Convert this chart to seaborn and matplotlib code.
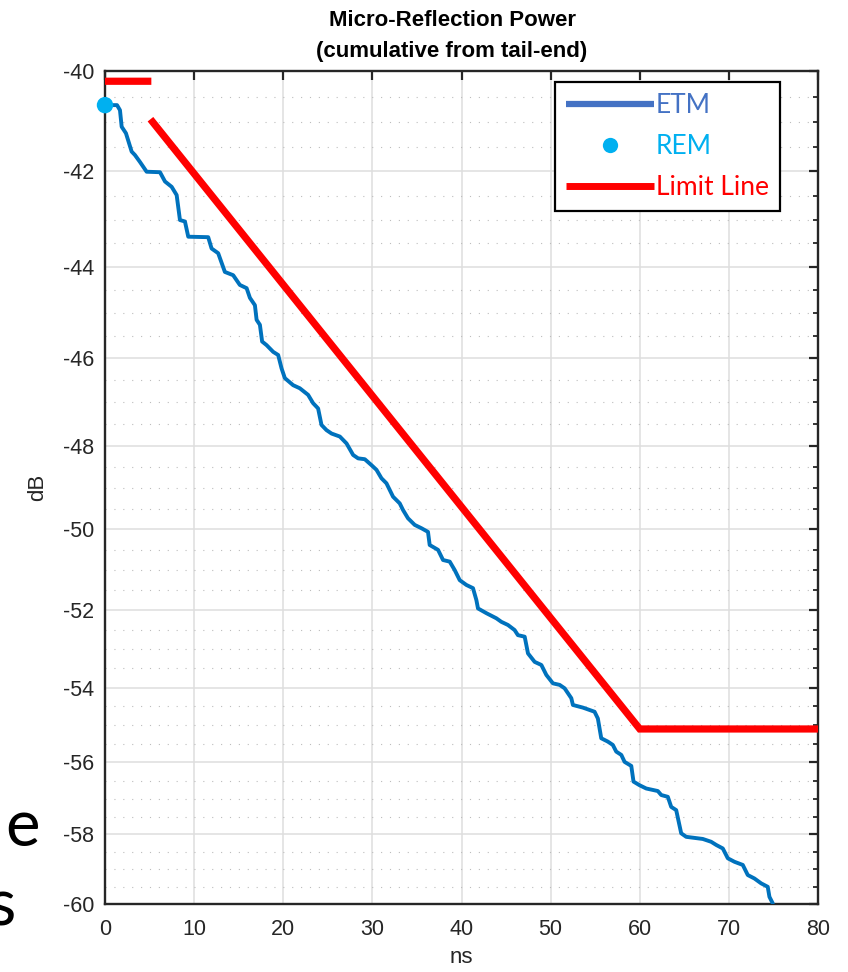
import numpy as np
import matplotlib
matplotlib.use("Agg")
import matplotlib.pyplot as plt
import seaborn as sns
from matplotlib.lines import Line2D
from matplotlib.ticker import MultipleLocator, FormatStrFormatter

# ETM trace (ns, dB)
etm_ns = [0.00, 1.35, 1.68, 1.87, 2.35, 2.99, 3.36, 3.92, 4.67, 6.17,
          6.73, 7.48, 8.04, 8.41, 8.97, 9.34, 11.58, 11.96, 12.70, 13.45,
          14.38, 15.13, 15.89, 16.26, 16.82, 17.01, 17.38, 17.63, 18.13, 18.87,
          19.43, 19.81, 20.18, 21.11, 21.86, 22.79, 23.35, 23.91, 24.29, 24.85,
          25.42, 26.35, 27.10, 27.84, 28.40, 29.15, 29.90, 30.46, 31.02, 31.58,
          32.32, 33.07, 33.44, 34.00, 34.75, 35.50, 36.24, 36.43, 37.37, 37.93,
          38.68, 39.24, 39.80, 40.55, 41.29, 41.67, 41.85, 42.79, 43.91, 44.47,
          45.21, 45.96, 46.33, 47.09, 47.46, 48.21, 48.96, 49.52, 50.26, 51.01,
          51.57, 52.32, 52.50, 53.62, 54.93, 55.30, 55.68, 56.42, 56.98, 57.36,
          57.93, 58.30, 59.05, 59.30, 59.98, 60.73, 62.03, 62.41, 63.15, 63.53,
          64.09, 64.65, 65.21, 67.07, 68.01, 68.58, 69.32, 69.88, 70.63, 71.56,
          72.12, 72.87, 73.62, 74.36, 74.55, 74.92]
etm_db = [-40.67, -40.67, -40.77, -41.10, -41.23, -41.60, -41.67, -41.81, -42.01, -42.02,
          -42.21, -42.32, -42.49, -43.01, -43.04, -43.36, -43.37, -43.61, -43.71, -44.11,
          -44.18, -44.39, -44.46, -44.67, -44.83, -45.15, -45.26, -45.63, -45.71, -45.86,
          -45.93, -46.23, -46.45, -46.61, -46.68, -46.83, -47.02, -47.14, -47.52, -47.64,
          -47.72, -47.79, -47.95, -48.22, -48.30, -48.32, -48.46, -48.57, -48.77, -48.89,
          -49.21, -49.37, -49.53, -49.73, -49.89, -49.97, -50.06, -50.38, -50.50, -50.75,
          -50.79, -51.00, -51.25, -51.37, -51.45, -51.75, -51.96, -52.08, -52.21, -52.30,
          -52.38, -52.51, -52.64, -52.68, -53.11, -53.33, -53.41, -53.67, -53.89, -53.93,
          -54.02, -54.28, -54.46, -54.53, -54.64, -54.82, -55.35, -55.44, -55.53, -55.71,
          -55.80, -55.99, -56.10, -56.53, -56.63, -56.72, -56.79, -56.90, -56.95, -57.23,
          -57.32, -57.97, -58.07, -58.13, -58.21, -58.30, -58.40, -58.68, -58.78, -58.87,
          -59.16, -59.26, -59.40, -59.50, -59.79, -59.98]

rem_ns = [0.0]
rem_db = [-40.67]

# limit line: short flat piece, then the slope and the floor
limit_ns = [0.0, 5.2, np.nan, 5.1, 60.0, 80.0]
limit_db = [-40.2, -40.2, np.nan, -40.95, -55.1, -55.1]

legend_labels = ["ETM", "REM", "Limit Line"]

ETM_BLUE = "#0072BD"
LEG_BLUE = "#4472C4"
CYAN = "#00B0F0"
RED = "#FF0000"
DARK = "#262626"

sns.set_theme(style="white")
plt.rcParams["font.family"] = ["Liberation Sans", "DejaVu Sans"]
plt.rcParams["axes.unicode_minus"] = False

fig = plt.figure(figsize=(8.48, 9.72), dpi=100)
ax = fig.add_axes([105 / 848, 1 - 904 / 972, 713 / 848, 833 / 972])


def fwd(v):
    v = np.asarray(v, dtype=float)
    with np.errstate(all="ignore"):
        return -np.log(-v)


def inv(t):
    return -np.exp(-np.asarray(t, dtype=float))


ax.set_yscale("function", functions=(fwd, inv))
ax.set_xlim(0, 80)
ax.set_ylim(-60, -40)

sns.lineplot(x=etm_ns, y=etm_db, ax=ax, color=ETM_BLUE, lw=2.8,
             estimator=None, sort=False, zorder=3)
ax.plot(limit_ns, limit_db, color=RED, lw=5.2, solid_capstyle="butt",
        solid_joinstyle="miter", zorder=4)
sns.scatterplot(x=rem_ns, y=rem_db, ax=ax, color=CYAN, s=140,
                edgecolor="none", clip_on=False, zorder=5)

ax.xaxis.set_major_locator(MultipleLocator(10))
ax.yaxis.set_major_locator(MultipleLocator(2))
ax.yaxis.set_minor_locator(MultipleLocator(0.5))
ax.yaxis.set_major_formatter(FormatStrFormatter("%d"))
ax.xaxis.set_major_formatter(FormatStrFormatter("%d"))

ax.grid(True, which="major", axis="both", color="#dedede", lw=1.1)
ax.grid(True, which="minor", axis="y", color="#bdbdbd", lw=0.8, ls=(0, (1, 7)))
ax.set_axisbelow(True)

for s in ax.spines.values():
    s.set_visible(True)
    s.set_color(DARK)
    s.set_linewidth(1.7)
ax.tick_params(which="both", direction="in", top=True, right=True,
               colors=DARK, labelsize=15.5)
ax.tick_params(which="major", length=6.5, width=1.6, pad=8)
ax.tick_params(which="minor", length=3.6, width=1.3)
ax.tick_params(axis="x", which="major", pad=11)

ax.set_xlabel("ns", fontsize=16, color=DARK, labelpad=5)
ax.set_ylabel("dB", fontsize=16, color=DARK, labelpad=10)

fig.text(452 / 848, 1 - 20 / 972, "Micro-Reflection Power", ha="center",
         va="center", fontsize=16, fontweight="bold", color="black")
fig.text(452 / 848, 1 - 52 / 972, "(cumulative from tail-end)", ha="center",
         va="center", fontsize=16, fontweight="bold", color="black")

handles = [Line2D([], [], color=LEG_BLUE, lw=4.5, solid_capstyle="butt"),
           Line2D([], [], ls="none", marker="o", color=CYAN, ms=11, mec="none"),
           Line2D([], [], color=RED, lw=5, solid_capstyle="butt")]
leg = ax.legend(handles, legend_labels, loc="upper left",
                bbox_to_anchor=(555 / 848, 1 - 82 / 972),
                bbox_transform=fig.transFigure, frameon=True, fancybox=False,
                framealpha=1, edgecolor="black", borderaxespad=0,
                prop={"family": "Lato", "size": 19},
                labelcolor=[LEG_BLUE, CYAN, RED], handlelength=3.35,
                handletextpad=0.05, borderpad=0.42, labelspacing=0.6)
leg.get_frame().set_linewidth(1.6)
leg.set_zorder(10)

# pieces of slide text peeking in at the lower left
fig.text(40 / 848, 1 - 846 / 972, "e", ha="right", va="baseline",
         fontsize=47, family="Lato", color="black")
fig.text(16 / 848, 1 - 925 / 972, "s", ha="right", va="baseline",
         fontsize=47, family="Lato", color="black")

fig.savefig("out.png", dpi=100)
